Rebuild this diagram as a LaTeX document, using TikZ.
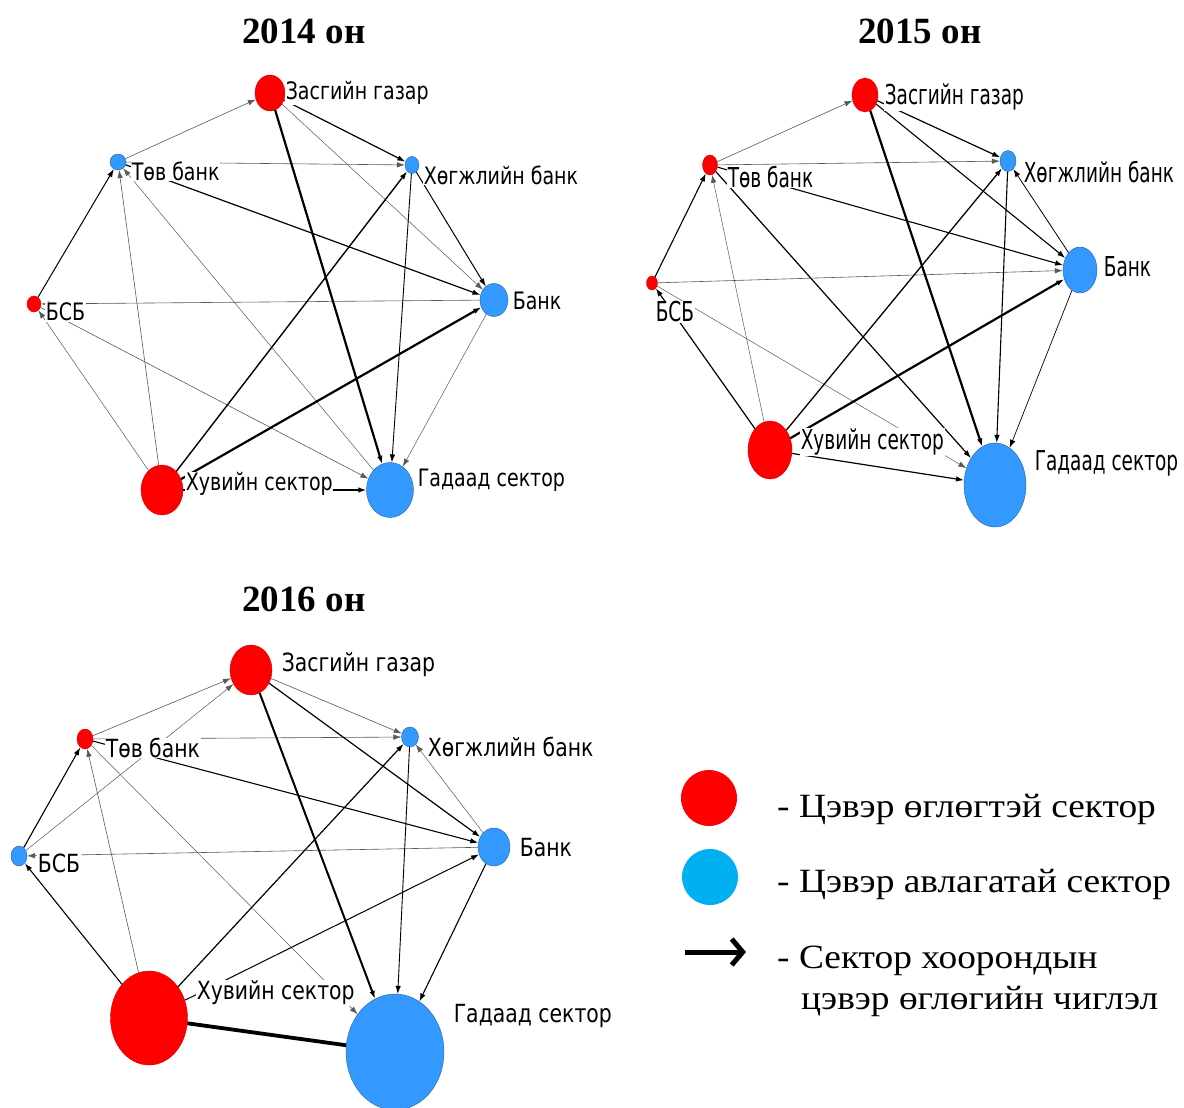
\documentclass[tikz,border=0pt]{standalone}
\usepackage{fontspec}
\usetikzlibrary{arrows.meta,shapes.geometric}
\newfontfamily\labfam{DejaVu Sans}
\newfontfamily\serfam{Liberation Serif}
\definecolor{nred}{RGB}{255,0,0}
\definecolor{nblue}{RGB}{51,153,255}
\definecolor{lblue}{RGB}{0,176,240}
\newcommand{\lbsx}{1}
\newcommand{\lbsy}{1}
\newcommand{\lb}[1]{\scalebox{\lbsx}[\lbsy]{#1}}
\newcommand{\lgx}[1]{\scalebox{1.1}[1]{#1}}
\begin{document}
\begin{tikzpicture}[x=1pt,y=-1pt,
  rn/.style={ellipse,fill=nred,draw=nred!80!black,line width=0.4pt,inner sep=0pt},
  bn/.style={ellipse,fill=nblue,draw=nblue!65!black,line width=0.4pt,inner sep=0pt},
  lab/.style={anchor=west,fill=white,inner sep=0.6pt,font=\labfam\fontsize{20}{22}\selectfont},
  ed/.style={-{Latex[length=8pt,width=5.5pt]},line width=#1pt,black},
  edt/.style={-{Latex[length=8pt,width=5.5pt]},line width=#1pt,black!65},
  ttl/.style={anchor=base,font=\serfam\bfseries\fontsize{37}{40}\selectfont},
  leg/.style={anchor=base west,font=\serfam\fontsize{34}{38}\selectfont,inner sep=0pt}
]
\useasboundingbox[fill=white] (0,0) rectangle (1184,1108);

% titles
\node[ttl] (t2014) at (304,44) {2014 он};
\node[ttl] (t2015) at (920,44) {2015 он};
\node[ttl] (t2016) at (304,611) {2016 он};

% ================= 2014 =================
\begin{scope}
\renewcommand{\lbsx}{0.95}\renewcommand{\lbsy}{1.2}
\node[rn,minimum width=30pt,minimum height=36pt] (z14) at (270,93) {};
\node[bn,minimum width=16pt,minimum height=16pt] (t14) at (118,162) {};
\node[bn,minimum width=14pt,minimum height=17pt] (h14) at (412,165) {};
\node[rn,minimum width=14pt,minimum height=16pt] (s14) at (34,304) {};
\node[bn,minimum width=28pt,minimum height=33pt] (b14) at (494,300) {};
\node[rn,minimum width=42pt,minimum height=50pt] (p14) at (162,490) {};
\node[bn,minimum width=47pt,minimum height=55pt] (g14) at (390,490) {};
\draw[edt=0.6] (t14) -- (z14);
\draw[ed=1.0] (s14) -- (t14);
\draw[edt=0.6] (p14) -- (t14);
\draw[edt=0.6] (t14) -- (h14);
\draw[ed=1.2] (t14) -- (b14);
\draw[edt=0.5] (g14) -- (t14);
\draw[edt=0.6] (b14) -- (s14);
\draw[edt=0.6] (s14) -- (g14);
\draw[edt=0.5] (p14) -- (s14);
\draw[ed=2.2] (z14) -- (g14);
\draw[ed=1.2] (z14) -- (h14);
\draw[edt=0.5] (z14) -- (b14);
\draw[ed=1.4] (p14) -- (h14);
\draw[ed=2.2] (p14) -- (b14);
\draw[ed=0.9] (h14) -- (g14);
\draw[ed=1.0] (h14) -- (b14);
\draw[edt=0.5] (b14) -- (g14);
\draw[ed=1.2] (p14) -- (g14);
\node[lab] (lz14) at (285,93) {\lb{Засгийн газар}};
\node[lab] (lt14) at (131,171) {\lb{Төв банк}};
\node[lab] (lh14) at (423,175) {\lb{Хөгжлийн банк}};
\node[lab] (ls14) at (45,312) {\lb{БСБ}};
\node[lab] (lb14) at (512,301) {\lb{Банк}};
\node[lab] (lp14) at (185,484) {\lb{Хувийн сектор}};
\node[lab] (lg14) at (417,480) {\lb{Гадаад сектор}};
\end{scope}

% ================= 2015 =================
\begin{scope}
\renewcommand{\lbsx}{0.925}\renewcommand{\lbsy}{1.37}
\node[rn,minimum width=26pt,minimum height=34pt] (z15) at (865,95) {};
\node[rn,minimum width=15pt,minimum height=20pt] (t15) at (710,165) {};
\node[bn,minimum width=16pt,minimum height=21pt] (h15) at (1008,161) {};
\node[rn,minimum width=11pt,minimum height=14pt] (s15) at (652,283) {};
\node[bn,minimum width=34pt,minimum height=46pt] (b15) at (1080,270) {};
\node[rn,minimum width=44pt,minimum height=58pt] (p15) at (770,450) {};
\node[bn,minimum width=62pt,minimum height=84pt] (g15) at (995,485) {};
\draw[edt=0.6] (t15) -- (z15);
\draw[ed=1.1] (s15) -- (t15);
\draw[edt=0.5] (p15) -- (t15);
\draw[edt=0.6] (t15) -- (h15);
\draw[ed=1.1] (t15) -- (b15);
\draw[ed=1.2] (t15) -- (g15);
\draw[edt=0.6] (s15) -- (b15);
\draw[edt=0.5] (s15) -- (g15);
\draw[ed=1.2] (p15) -- (s15);
\draw[ed=2.2] (z15) -- (g15);
\draw[ed=1.2] (z15) -- (h15);
\draw[ed=1.1] (z15) -- (b15);
\draw[ed=1.3] (p15) -- (h15);
\draw[ed=2.2] (p15) -- (b15);
\draw[ed=1.1] (h15) -- (g15);
\draw[ed=0.8] (b15) -- (h15);
\draw[ed=0.7] (b15) -- (g15);
\draw[ed=1.2] (p15) -- (g15);
\node[lab] (lz15) at (884,97) {\lb{Засгийн газар}};
\node[lab] (lt15) at (727,177) {\lb{Төв банк}};
\node[lab] (lh15) at (1023,172) {\lb{Хөгжлийн банк}};
\node[lab] (ls15) at (655,312) {\lb{БСБ}};
\node[lab] (lb15) at (1103,267) {\lb{Банк}};
\node[lab] (lp15) at (800,442) {\lb{Хувийн сектор}};
\node[lab] (lg15) at (1034,463) {\lb{Гадаад сектор}};
\end{scope}

% ================= 2016 =================
\begin{scope}
\renewcommand{\lbsx}{1.02}\renewcommand{\lbsy}{1.25}
\node[rn,minimum width=42pt,minimum height=50pt] (z16) at (251,670) {};
\node[rn,minimum width=16pt,minimum height=20pt] (t16) at (85,739) {};
\node[bn,minimum width=17pt,minimum height=20pt] (h16) at (410,737) {};
\node[bn,minimum width=16pt,minimum height=20pt] (s16) at (19,856) {};
\node[bn,minimum width=32pt,minimum height=38pt] (b16) at (494,847) {};
\node[rn,minimum width=77pt,minimum height=94pt] (p16) at (149,1018) {};
\node[bn,minimum width=98pt,minimum height=116pt] (g16) at (395,1052) {};
\draw[edt=0.6] (t16) -- (z16);
\draw[edt=0.5] (s16) -- (z16);
\draw[ed=1.1] (s16) -- (t16);
\draw[edt=0.6] (p16) -- (t16);
\draw[edt=0.6] (t16) -- (h16);
\draw[ed=1.1] (t16) -- (b16);
\draw[edt=0.5] (t16) -- (g16);
\draw[edt=0.6] (b16) -- (s16);
\draw[ed=1.1] (p16) -- (s16);
\draw[ed=2.0] (z16) -- (g16);
\draw[edt=0.6] (z16) -- (h16);
\draw[ed=1.2] (z16) -- (b16);
\draw[ed=1.2] (p16) -- (h16);
\draw[ed=1.0] (p16) -- (b16);
\draw[ed=0.9] (h16) -- (g16);
\draw[edt=0.5] (b16) -- (h16);
\draw[ed=1.1] (b16) -- (g16);
\draw[line width=3.8pt] (p16) -- (g16);
\node[lab] (lz16) at (281,665) {\lb{Засгийн газар}};
\node[lab] (lt16) at (105,748) {\lb{Төв банк}};
\node[lab] (lh16) at (427,747) {\lb{Хөгжлийн банк}};
\node[lab] (ls16) at (37,863) {\lb{БСБ}};
\node[lab] (lb16) at (519,848) {\lb{Банк}};
\node[lab] (lp16) at (196,993) {\lb{Хувийн сектор}};
\node[lab] (lg16) at (453,1016) {\lb{Гадаад сектор}};
\end{scope}

% ================= legend =================
\node[circle,fill=nred,minimum size=56pt,inner sep=0pt] (kred) at (709,798) {};
\node[circle,fill=lblue,minimum size=56pt,inner sep=0pt] (kblue) at (710,877) {};
\coordinate (ka) at (685,952);
\coordinate (kb) at (746,952);
\draw[line width=5pt,-{Straight Barb[length=11pt,width=26pt]}] (ka) -- (kb);
\node[leg] (k1) at (777,817) {\lgx{- Цэвэр өглөгтэй сектор}};
\node[leg] (k2) at (777,892) {\lgx{- Цэвэр авлагатай сектор}};
\node[leg] (k3) at (777,968) {\lgx{- Сектор хоорондын}};
\node[leg] (k4) at (801,1009) {\lgx{цэвэр өглөгийн чиглэл}};
\end{tikzpicture}
\end{document}
